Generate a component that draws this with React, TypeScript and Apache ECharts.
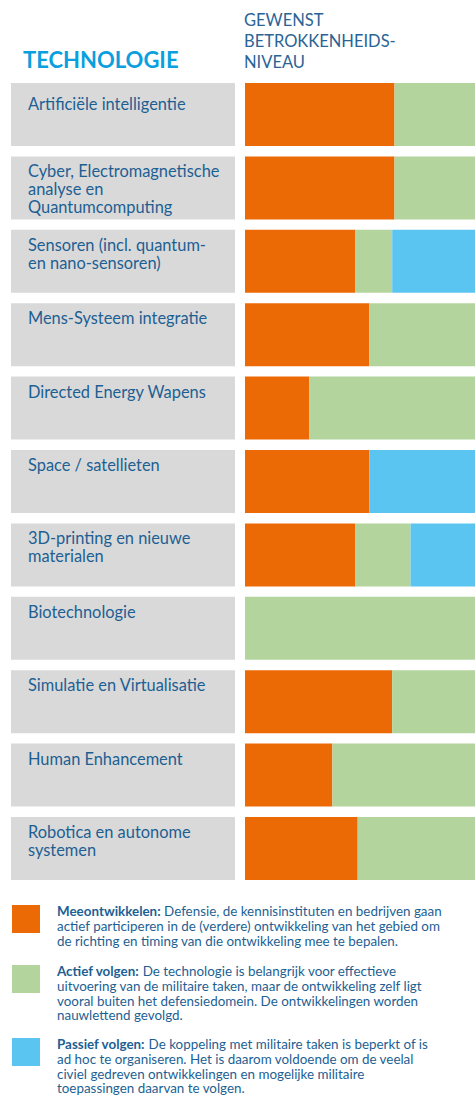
import React, { useEffect, useRef } from "react";
import * as echarts from "echarts";

const categories = [
  "Artificiële intelligentie",
  "Cyber, Electromagnetische\nanalyse en\nQuantumcomputing",
  "Sensoren (incl. quantum-\nen nano-sensoren)",
  "Mens-Systeem integratie",
  "Directed Energy Wapens",
  "Space / satellieten",
  "3D-printing en nieuwe\nmaterialen",
  "Biotechnologie",
  "Simulatie en Virtualisatie",
  "Human Enhancement",
  "Robotica en autonome\nsystemen",
];

// share of the bar (percent) per involvement level
const meeontwikkelen = [65, 65, 48, 54, 28, 54, 48, 0, 64, 38, 49];
const actiefVolgen = [35, 35, 16, 46, 72, 0, 24, 100, 36, 62, 51];
const passiefVolgen = [0, 0, 36, 0, 0, 46, 28, 0, 0, 0, 0];
const background = categories.map(() => 1);

const seriesNames = ["Meeontwikkelen", "Actief volgen", "Passief volgen"];
const seriesColors = ["#ec6a06", "#b3d49c", "#5bc5f2"];
const legendTexts = [
  "Defensie, de kennisinstituten en bedrijven gaan\nactief participeren in de (verdere) ontwikkeling van het gebied om\nde richting en timing van die ontwikkeling mee te bepalen.",
  "De technologie is belangrijk voor effectieve\nuitvoering van de militaire taken, maar de ontwikkeling zelf ligt\nvooral buiten het defensiedomein. De ontwikkelingen worden\nnauwlettend gevolgd.",
  "De koppeling met militaire taken is beperkt of is\nad hoc te organiseren. Het is daarom voldoende om de veelal\nciviel gedreven ontwikkelingen en mogelijke militaire\ntoepassingen daarvan te volgen.",
];

const FONT = "Lato";
const TEXT_COLOR = "#1d5f93";

export default function App() {
  const ref = useRef<HTMLDivElement>(null);
  useEffect(() => {
    if (!ref.current) return;
    const chart = echarts.init(ref.current, null, { renderer: "svg" });
    const legendTops = [904, 964, 1037];
    const legendGraphics: any[] = [];
    seriesNames.forEach((n, i) => {
      legendGraphics.push({
        type: "rect",
        left: 12,
        top: legendTops[i] + 1,
        shape: { width: 28, height: 28 },
        style: { fill: seriesColors[i] },
      });
      legendGraphics.push({
        type: "text",
        left: 57,
        top: legendTops[i],
        style: {
          text: "{b|" + n + ":} " + legendTexts[i],
          fontFamily: FONT,
          fontSize: 13.4,
          lineHeight: 14.7,
          fill: TEXT_COLOR,
          rich: {
            b: { fontWeight: "bold", fontFamily: FONT, fontSize: 13.4, lineHeight: 14.7, fill: TEXT_COLOR },
          },
        },
      });
    });

    const bgData = background.map((v, i) =>
      i === 0 ? { value: v, label: { position: [17, 11] } } : v
    );

    chart.setOption({
      animation: false,
      title: {
        text: "TECHNOLOGIE",
        left: 23,
        top: 48,
        padding: 0,
        textStyle: { fontFamily: FONT, fontSize: 22, fontWeight: "bold", color: "#0aa0df" },
      },
      graphic: [
        {
          type: "text",
          left: 244,
          top: 9,
          style: {
            text: "GEWENST\nBETROKKENHEIDS-\nNIVEAU",
            fontFamily: FONT,
            fontSize: 16.5,
            lineHeight: 21,
            fill: "#2a6496",
          },
        },
        ...legendGraphics,
      ],
      grid: [
        { left: 245, width: 230, top: 77.8, height: 807.4 },
        { left: 11, width: 224, top: 77.8, height: 807.4 },
      ],
      xAxis: [
        { type: "value", gridIndex: 0, min: 0, max: 100, show: false },
        { type: "value", gridIndex: 1, min: 0, max: 1, show: false },
      ],
      yAxis: [
        { type: "category", gridIndex: 0, data: categories, inverse: true, show: false },
        { type: "category", gridIndex: 1, data: categories, inverse: true, show: false },
      ],
      series: [
        {
          type: "bar",
          name: "bg",
          xAxisIndex: 1,
          yAxisIndex: 1,
          data: bgData,
          barWidth: 63,
          itemStyle: { color: "#d9d9d9" },
          silent: true,
          label: {
            show: true,
            position: [17, 5.5],
            formatter: "{b}",
            fontFamily: FONT,
            fontSize: 16.4,
            lineHeight: 18,
            color: TEXT_COLOR,
            align: "left",
            verticalAlign: "top",
          },
        },
        ...[meeontwikkelen, actiefVolgen, passiefVolgen].map((d, i) => ({
          type: "bar",
          name: seriesNames[i],
          stack: "level",
          xAxisIndex: 0,
          yAxisIndex: 0,
          data: d,
          barWidth: 63,
          itemStyle: { color: seriesColors[i] },
        })),
      ],
    });
    return () => chart.dispose();
  }, []);
  return (
    <div
      ref={ref}
      style={{ position: "absolute", left: 0, top: 0, width: 475, height: 1095, background: "#fff" }}
    />
  );
}
